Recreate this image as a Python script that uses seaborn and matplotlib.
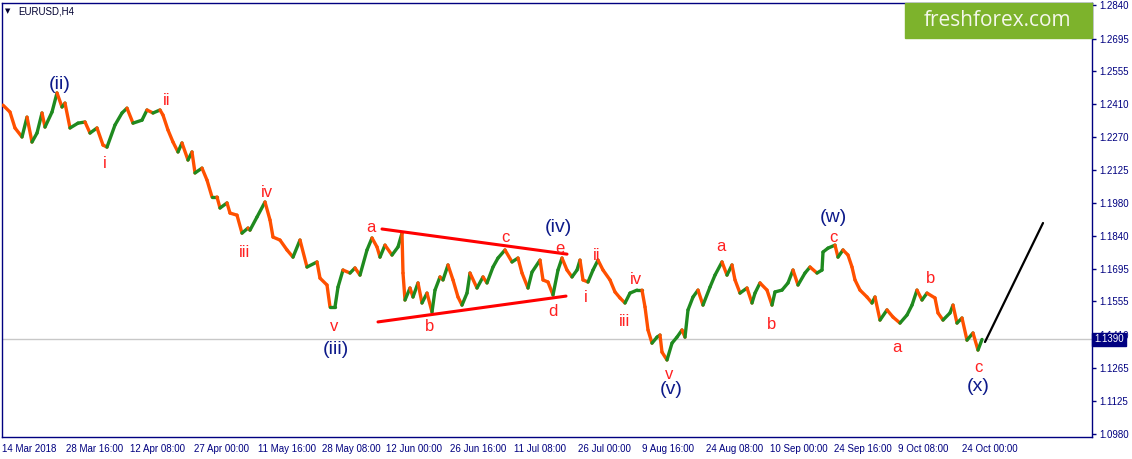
import numpy as np
import pandas as pd
import seaborn as sns
from matplotlib import pyplot as plt
from matplotlib.collections import LineCollection
from matplotlib.patches import Rectangle

# H4 bar number (0 = 14 Mar 2018) and price
bars = [1, 8, 13, 20, 25, 30, 35, 40, 43, 50, 55, 60, 63, 68, 76, 83, 88, 95, 101, 105,
        113, 120, 125, 131, 140, 145, 151, 158, 161, 166, 171, 176, 180, 186, 190, 193, 200, 205, 210, 215,
        218, 225, 228, 235, 240, 246, 248, 255, 263, 268, 271, 278, 285, 291, 298, 305, 315, 318, 325, 328,
        333, 336, 341, 348, 353, 358, 365, 370, 375, 378, 383, 390, 396, 400, 401, 403, 408, 411, 416, 420,
        425, 430, 433, 438, 441, 446, 451, 456, 460, 465, 468, 475, 481, 485, 491, 496, 503, 510, 516, 520,
        526, 530, 538, 541, 546, 551, 556, 560, 565, 570, 575, 578, 581, 586, 591, 596, 601, 608, 613, 618,
        623, 628, 635, 640, 643, 646, 650, 655, 658, 660, 665, 670, 675, 680, 683, 686, 691, 696, 701, 708,
        713, 720, 725, 730, 733, 738, 745, 750, 753, 758, 765, 770, 773, 780, 786, 791, 796, 803, 808, 815,
        820, 821, 826, 833, 836, 841, 846, 850, 853, 858, 865, 870, 873, 878, 885, 891, 898, 905, 910, 915,
        920, 925, 933, 936, 941, 948, 951, 955, 960, 965, 971, 976, 980]
closes = [1.2406, 1.2376, 1.2307, 1.2268, 1.2354, 1.2246, 1.2285, 1.2372, 1.2311, 1.2376,
          1.2459, 1.2398, 1.2415, 1.2307, 1.2328, 1.2333, 1.2285, 1.2307, 1.2233, 1.2224,
          1.2320, 1.2372, 1.2393, 1.2328, 1.2341, 1.2385, 1.2372, 1.2385, 1.2363, 1.2298,
          1.2246, 1.2203, 1.2242, 1.2168, 1.2203, 1.2112, 1.2133, 1.2081, 1.2008, 1.2008,
          1.1960, 1.1982, 1.1938, 1.1929, 1.1851, 1.1873, 1.1864, 1.1921, 1.1986, 1.1908,
          1.1834, 1.1821, 1.1778, 1.1747, 1.1821, 1.1704, 1.1726, 1.1656, 1.1626, 1.1531,
          1.1531, 1.1617, 1.1691, 1.1678, 1.1700, 1.1669, 1.1778, 1.1830, 1.1791, 1.1747,
          1.1799, 1.1756, 1.1791, 1.1851, 1.1678, 1.1561, 1.1613, 1.1574, 1.1635, 1.1548,
          1.1591, 1.1509, 1.1604, 1.1661, 1.1648, 1.1713, 1.1648, 1.1574, 1.1539, 1.1591,
          1.1678, 1.1613, 1.1661, 1.1635, 1.1704, 1.1743, 1.1778, 1.1726, 1.1743, 1.1678,
          1.1613, 1.1682, 1.1734, 1.1648, 1.1639, 1.1583, 1.1691, 1.1743, 1.1691, 1.1661,
          1.1691, 1.1734, 1.1648, 1.1639, 1.1691, 1.1734, 1.1691, 1.1648, 1.1596, 1.1570,
          1.1548, 1.1591, 1.1604, 1.1604, 1.1531, 1.1431, 1.1374, 1.1400, 1.1409, 1.1335,
          1.1301, 1.1374, 1.1400, 1.1431, 1.1400, 1.1518, 1.1574, 1.1604, 1.1539, 1.1617,
          1.1669, 1.1726, 1.1669, 1.1713, 1.1648, 1.1591, 1.1613, 1.1548, 1.1591, 1.1635,
          1.1604, 1.1539, 1.1596, 1.1604, 1.1635, 1.1691, 1.1626, 1.1678, 1.1704, 1.1678,
          1.1691, 1.1769, 1.1786, 1.1799, 1.1747, 1.1778, 1.1756, 1.1704, 1.1648, 1.1604,
          1.1574, 1.1548, 1.1574, 1.1474, 1.1518, 1.1487, 1.1461, 1.1496, 1.1539, 1.1604,
          1.1561, 1.1591, 1.1570, 1.1505, 1.1474, 1.1505, 1.1539, 1.1461, 1.1483, 1.1387,
          1.1418, 1.1344, 1.1390]

xtick_bars = [0, 64, 128, 192, 256, 320, 384, 448, 512, 576, 640, 704, 768, 832, 896, 960]
xtick_labels = ["14 Mar 2018", "28 Mar 16:00", "12 Apr 08:00", "27 Apr 00:00", "11 May 16:00",
                "28 May 08:00", "12 Jun 00:00", "26 Jun 16:00", "11 Jul 08:00", "26 Jul 00:00",
                "9 Aug 16:00", "24 Aug 08:00", "10 Sep 00:00", "24 Sep 16:00", "9 Oct 08:00",
                "24 Oct 00:00"]
ytick_vals = [1.2840, 1.2695, 1.2555, 1.2410, 1.2270, 1.2125, 1.1980, 1.1840,
              1.1695, 1.1555, 1.1410, 1.1265, 1.1125, 1.0980]
last_price = 1.1390

# wave marks: text, bar, price, degree (minor = red, major = navy)
waves = [("(ii)", 58, 1.2497, "major"), ("i", 103, 1.2151, "minor"), ("ii", 165, 1.2428, "minor"),
         ("iii", 243, 1.1769, "minor"), ("iv", 265, 1.2029, "minor"), ("v", 332, 1.1448, "minor"),
         ("(iii)", 334, 1.1348, "major"), ("a", 369, 1.1877, "minor"), ("b", 428, 1.1448, "minor"),
         ("c", 503, 1.1834, "minor"), ("(iv)", 556, 1.1877, "major"), ("e", 558, 1.1786, "minor"),
         ("d", 551, 1.1513, "minor"), ("i", 584, 1.1570, "minor"), ("ii", 595, 1.1756, "minor"),
         ("iii", 623, 1.1466, "minor"), ("iv", 634, 1.1648, "minor"), ("v", 667, 1.1240, "minor"),
         ("(v)", 669, 1.1171, "major"), ("a", 719, 1.1791, "minor"), ("b", 770, 1.1457, "minor"),
         ("(w)", 831, 1.1921, "major"), ("c", 831, 1.1834, "minor"), ("a", 895, 1.1357, "minor"),
         ("b", 929, 1.1656, "minor"), ("c", 976, 1.1270, "minor"), ("(x)", 976, 1.1184, "major")]

tri_upper_bars = [380, 565]
tri_upper_price = [1.1869, 1.1760]
tri_lower_bars = [376, 564]
tri_lower_price = [1.1466, 1.1578]
proj_bars = [983, 1041]
proj_price = [1.1379, 1.1895]

navy = "#000080"
up_col = "#1f8a1f"
down_col = "#ff5000"

sns.set_style("white")
plt.rcParams['font.family'] = ['Liberation Sans', 'DejaVu Sans']

fig = plt.figure(figsize=(11.32, 4.59), dpi=100)
ax = fig.add_axes([2 / 1132, 1 - 437 / 459, 1090 / 1132, 434 / 459])
ax.set_xlim(0, 1090)
ax.set_ylim(1.0967, 1.2849)

ax.axhline(last_price, color="#c8c8c8", lw=1, zorder=1)

# price path, each leg coloured by direction like the bars
pts = np.column_stack([bars, closes])
segs = np.stack([pts[:-1], pts[1:]], axis=1)
cols = [up_col if c1 >= c0 else down_col for c0, c1 in zip(closes[:-1], closes[1:])]
ax.add_collection(LineCollection(segs, colors=cols, linewidths=2.4, capstyle="round", zorder=3))

sns.lineplot(x=tri_upper_bars, y=tri_upper_price, color="red", lw=2.2, ax=ax, zorder=4)
sns.lineplot(x=tri_lower_bars, y=tri_lower_price, color="red", lw=2.2, ax=ax, zorder=4)
sns.lineplot(x=proj_bars, y=proj_price, color="black", lw=1.6, ax=ax, zorder=4)

for txt, b, p, deg in waves:
    if deg == "major":
        ax.text(b, p, txt, color="#0d1a8a", fontsize=14, ha="center", va="center", zorder=5)
    else:
        ax.text(b, p, txt, color="#ff2020", fontsize=12, ha="center", va="center", zorder=5)

for s in ax.spines.values():
    s.set_visible(True)
    s.set_color(navy)
    s.set_linewidth(1)

ax.set_xticks(xtick_bars)
ax.set_xticklabels(xtick_labels, ha="left")
ax.yaxis.tick_right()
ax.set_yticks(ytick_vals)
ax.set_yticklabels([f"{v:.4f}" for v in ytick_vals])
ax.tick_params(axis="both", direction="out", length=3, width=1, color=navy,
               labelcolor=navy, labelsize=7, pad=2)

ax.text(1.002, last_price, f"{last_price:.4f}", transform=ax.get_yaxis_transform(),
        color="white", fontsize=7, ha="left", va="center", clip_on=False, zorder=6,
        bbox=dict(boxstyle="square,pad=0.2", fc=navy, ec=navy))

fig.patches.append(Rectangle((905 / 1132, 1 - 38 / 459), 187 / 1132, 35 / 459,
                             transform=fig.transFigure, color="#7db32c", zorder=5))
fig.text(997 / 1132, 1 - 21 / 459, "freshforex.com", color="#f4f7ea", fontsize=15,
         family="Open Sans", ha="center", va="center", zorder=6)
fig.text(5 / 1132, 1 - 11 / 459, "\u25bc", color="#000030", fontsize=5,
         family="DejaVu Sans", ha="left", va="center")
fig.text(18 / 1132, 1 - 11 / 459, "EURUSD,H4", color="#000030", fontsize=7,
         ha="left", va="center")

fig.savefig("out.png", dpi=100)
